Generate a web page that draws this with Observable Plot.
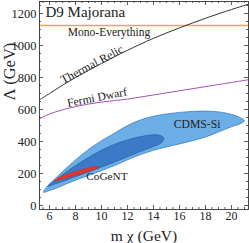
<!DOCTYPE html>
<html>
<head>
<meta charset="utf-8">
<script src="https://cdn.jsdelivr.net/npm/d3@7"></script>
<script src="https://cdn.jsdelivr.net/npm/@observablehq/plot@0.6"></script>
<style>
  html, body { margin: 0; padding: 0; background: white; }
</style>
</head>
<body>
<div id="chart"></div>
<script>
// ---- data ----
const xMajor = [6, 8, 10, 12, 14, 16, 18, 20];
const yMajor = [0, 200, 400, 600, 800, 1000, 1200];

const relicM = [5.23, 6, 7, 8, 9, 10, 11, 12, 14, 16, 18, 20, 21.31];
const relicL = [660, 700, 752, 800, 845, 888, 930, 970, 1045, 1110, 1170, 1225, 1258];

const fermiM = [5.23, 6, 7, 8, 9, 10, 11, 12, 14, 16, 18, 20, 21.31];
const fermiL = [542, 572, 598, 618, 634, 646, 656, 665, 691, 717, 743, 769, 786];

const monoM = [5.23, 21.31];
const monoL = [1125, 1125];

// CDMS-Si outer region: upper edge left->right, then lower edge right->left
const cdmsOuter = [
  [5.54, 83], [6.0, 135], [6.5, 172], [7.0, 212], [7.5, 248], [8.0, 285], [8.5, 318],
  [9.0, 350], [9.5, 378], [10.0, 405], [11.0, 452], [12.0, 500], [13.0, 535],
  [14.0, 558], [15.0, 572], [16.0, 582], [17.0, 588], [18.0, 590], [19.0, 585],
  [20.0, 570], [20.6, 552], [21.0, 530],
  [20.8, 516], [20.0, 492], [19.0, 460], [18.0, 428], [17.0, 405], [16.0, 385],
  [15.0, 366], [14.0, 345], [13.0, 318], [12.0, 286], [11.0, 250], [10.0, 218],
  [9.0, 188], [8.0, 158], [7.0, 125], [6.5, 108], [6.0, 93]
];
// CDMS-Si inner region
const cdmsInner = [
  [5.85, 118], [6.0, 130], [6.5, 160], [7.0, 192], [8.0, 250], [9.0, 300],
  [10.0, 345], [11.0, 382], [12.0, 410], [13.0, 430], [14.0, 442], [14.5, 438], [14.8, 420],
  [14.6, 392], [14.0, 368], [13.0, 338], [12.0, 305], [11.0, 272], [10.0, 240],
  [9.0, 210], [8.0, 180], [7.0, 150], [6.5, 137], [6.0, 122]
];
// CoGeNT region
const cogent = [
  [6.38, 154], [6.77, 176], [7.5, 199], [8.3, 219], [9.0, 234], [9.5, 243], [9.77, 240],
  [9.6, 230], [9.0, 215], [8.3, 196], [7.5, 178], [6.77, 159]
];

const labelText  = ["D9 Majorana", "Mono-Everything", "Thermal Relic", "Fermi Dwarf", "CDMS-Si", "CoGeNT"];
const labelM     = [5.69, 10.58, 9.27, 9.65, 17.35, 10.42];
const labelL     = [1206, 1081, 881, 675, 506, 181];
const labelAngle = [0, 0, -28, -11, 0, 0];
const labelSize  = [15, 11.5, 12, 11.7, 11.7, 11.3];
const labelAnchor = ["start", "middle", "middle", "middle", "middle", "middle"];

// ---- build ----
const labels = labelText.map((t, i) => ({t, m: labelM[i], l: labelL[i], a: labelAngle[i], s: labelSize[i], anchor: labelAnchor[i]}));
const relic = relicM.map((m, i) => ({m, l: relicL[i]}));
const fermi = fermiM.map((m, i) => ({m, l: fermiL[i]}));
const mono = monoM.map((m, i) => ({m, l: monoL[i]}));
const xMinor = d3.range(5.5, 21.3, 0.5).filter(v => !xMajor.includes(v));
const yMinor = d3.range(0, 1275, 50).filter(v => !yMajor.includes(v));

const W = 249, H = 243, mL = 39, mR = 1, mT = 1, mB = 34;
const fw = W - mL - mR, fh = H - mT - mB;
const tc = "#333";

const textMarks = labels.map(d => Plot.text([d], {
  x: "m", y: "l", text: "t", rotate: d.a, fontSize: d.s, textAnchor: d.anchor, fill: "#222"
}));

const svg = Plot.plot({
  width: W, height: H,
  marginLeft: mL, marginRight: mR, marginTop: mT, marginBottom: mB,
  x: {domain: [5.23, 21.31], axis: null},
  y: {domain: [-25, 1275], axis: null},
  style: {fontFamily: "Liberation Serif", fontSize: "12px", background: "white", color: "#222"},
  marks: [
    Plot.line(cdmsOuter, {x: d => d[0], y: d => d[1], curve: "catmull-rom-closed", fill: "#6caee6", stroke: "#3f7cc0", strokeWidth: 0.8}),
    Plot.line(cdmsInner, {x: d => d[0], y: d => d[1], curve: "catmull-rom-closed", fill: "#3a7ac6", stroke: "#2c62a8", strokeWidth: 0.8}),
    Plot.line(cogent, {x: d => d[0], y: d => d[1], curve: "catmull-rom-closed", fill: "#e8352c", stroke: "#d42a22", strokeWidth: 0.6}),
    Plot.line(mono, {x: "m", y: "l", stroke: "#f5a24a", strokeWidth: 1.3, clip: true}),
    Plot.line(relic, {x: "m", y: "l", stroke: "#333", strokeWidth: 1, curve: "catmull-rom", clip: true}),
    Plot.line(fermi, {x: "m", y: "l", stroke: "#a552b0", strokeWidth: 1, curve: "catmull-rom", clip: true}),
    ...textMarks,
    // ticks inside the frame
    Plot.tickX(xMajor, {x: d => d, insetTop: fh - 4, stroke: tc, strokeWidth: 0.8}),
    Plot.tickX(xMinor, {x: d => d, insetTop: fh - 2, stroke: tc, strokeWidth: 0.8}),
    Plot.tickX(xMajor, {x: d => d, insetBottom: fh - 4, stroke: tc, strokeWidth: 0.8}),
    Plot.tickX(xMinor, {x: d => d, insetBottom: fh - 2, stroke: tc, strokeWidth: 0.8}),
    Plot.tickY(yMajor, {y: d => d, insetRight: fw - 4, stroke: tc, strokeWidth: 0.8}),
    Plot.tickY(yMinor, {y: d => d, insetRight: fw - 2, stroke: tc, strokeWidth: 0.8}),
    Plot.tickY(yMajor, {y: d => d, insetLeft: fw - 4, stroke: tc, strokeWidth: 0.8}),
    Plot.tickY(yMinor, {y: d => d, insetLeft: fw - 2, stroke: tc, strokeWidth: 0.8}),
    Plot.frame({stroke: tc, strokeWidth: 0.9}),
    // tick labels
    Plot.text(yMajor, {y: d => d, text: d => String(d), frameAnchor: "left", textAnchor: "end", dx: -3, fontSize: 12.5, fill: "#222"}),
    Plot.text(xMajor, {x: d => d, text: d => String(d), frameAnchor: "bottom", lineAnchor: "top", dy: 1.5, fontSize: 12, fill: "#222"}),
    // axis titles
    Plot.text(["Λ (GeV)"], {frameAnchor: "left", dx: -30, dy: -5, rotate: -90, fontSize: 16.5, fill: "#222"}),
    Plot.text(["m χ (GeV)"], {frameAnchor: "bottom", lineAnchor: "bottom", dy: 31, fontSize: 15.5, fill: "#222", ariaLabel: "xlabel"})
  ]
});

// subscripted x-axis title
d3.select(svg).select('g[aria-label="xlabel"] text').each(function() {
  const t = d3.select(this);
  t.text(null);
  t.append("tspan").attr("font-style", "italic").text("m");
  t.append("tspan").attr("font-size", 11).attr("font-style", "italic").attr("dy", 3).text("χ");
  t.append("tspan").attr("dy", -3).text(" (GeV)");
});

document.getElementById("chart").appendChild(svg);
</script>
</body>
</html>
